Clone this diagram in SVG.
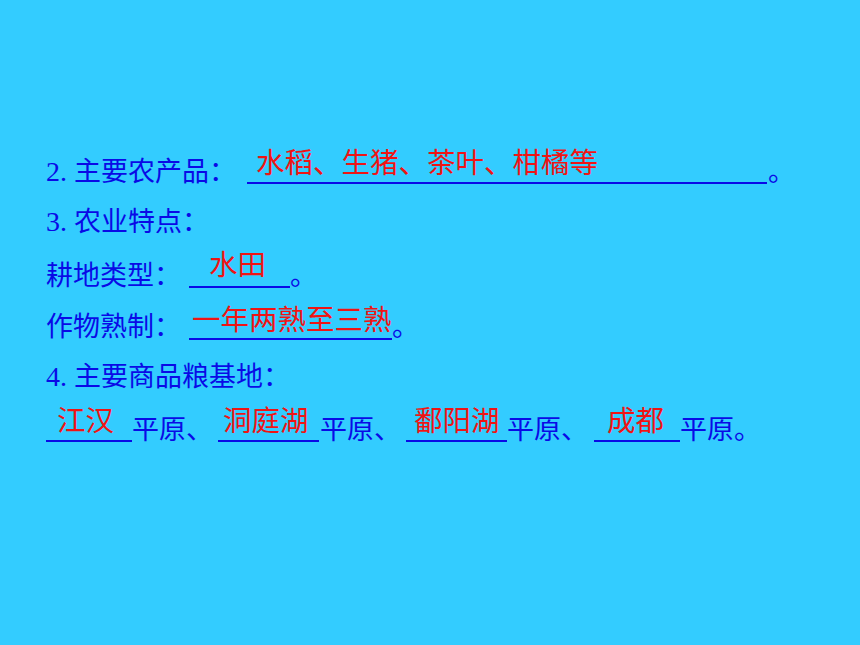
<svg xmlns="http://www.w3.org/2000/svg" width="860" height="645" viewBox="0 0 860 645">
<style>
.b{fill:#0A0AE6;font-family:"Noto Sans CJK SC","Noto Sans CJK TC",sans-serif;font-size:27px}
.d{fill:#0A0AE6;font-family:"Liberation Serif","Noto Sans CJK SC",serif;font-size:28px}
.r{fill:#F01414;font-family:"Noto Sans CJK SC","Noto Sans CJK TC",sans-serif;font-size:28.5px}
.u{stroke:#0A0AE6;stroke-width:2;fill:none}
</style>
<rect x="0" y="0" width="860" height="645" fill="#33CCFF"/>
<g id="line1">
<text class="d" x="46" y="181">2.</text>
<text class="b" x="74" y="181">主要农产品：</text>
<line class="u" x1="247" y1="183" x2="767" y2="183"/>
<text class="b" x="768" y="181">。</text>
<text class="r" x="256" y="173">水稻、生猪、茶叶、柑橘等</text>
</g>
<g id="line2">
<text class="d" x="46" y="231">3.</text>
<text class="b" x="74" y="231">农业特点：</text>
</g>
<g id="line3">
<text class="b" x="46" y="285">耕地类型：</text>
<line class="u" x1="189" y1="287" x2="290" y2="287"/>
<text class="b" x="290" y="285">。</text>
<text class="r" x="209" y="275">水田</text>
</g>
<g id="line4">
<text class="b" x="46" y="336">作物熟制：</text>
<line class="u" x1="189" y1="339" x2="392" y2="339"/>
<text class="b" x="392" y="336">。</text>
<text class="r" x="192" y="330">一年两熟至三熟</text>
</g>
<g id="line5">
<text class="d" x="46" y="386">4.</text>
<text class="b" x="74" y="386">主要商品粮基地：</text>
</g>
<g id="line6">
<line class="u" x1="46" y1="441" x2="132" y2="441"/>
<text class="b" x="132" y="439">平原、</text>
<line class="u" x1="218" y1="441" x2="319" y2="441"/>
<text class="b" x="320" y="439">平原、</text>
<line class="u" x1="406" y1="441" x2="507" y2="441"/>
<text class="b" x="507" y="439">平原、</text>
<line class="u" x1="594" y1="441" x2="680" y2="441"/>
<text class="b" x="680" y="439">平原。</text>
<text class="r" x="57" y="431">江汉</text>
<text class="r" x="223" y="431">洞庭湖</text>
<text class="r" x="414" y="431">鄱阳湖</text>
<text class="r" x="607" y="431">成都</text>
</g>
</svg>
